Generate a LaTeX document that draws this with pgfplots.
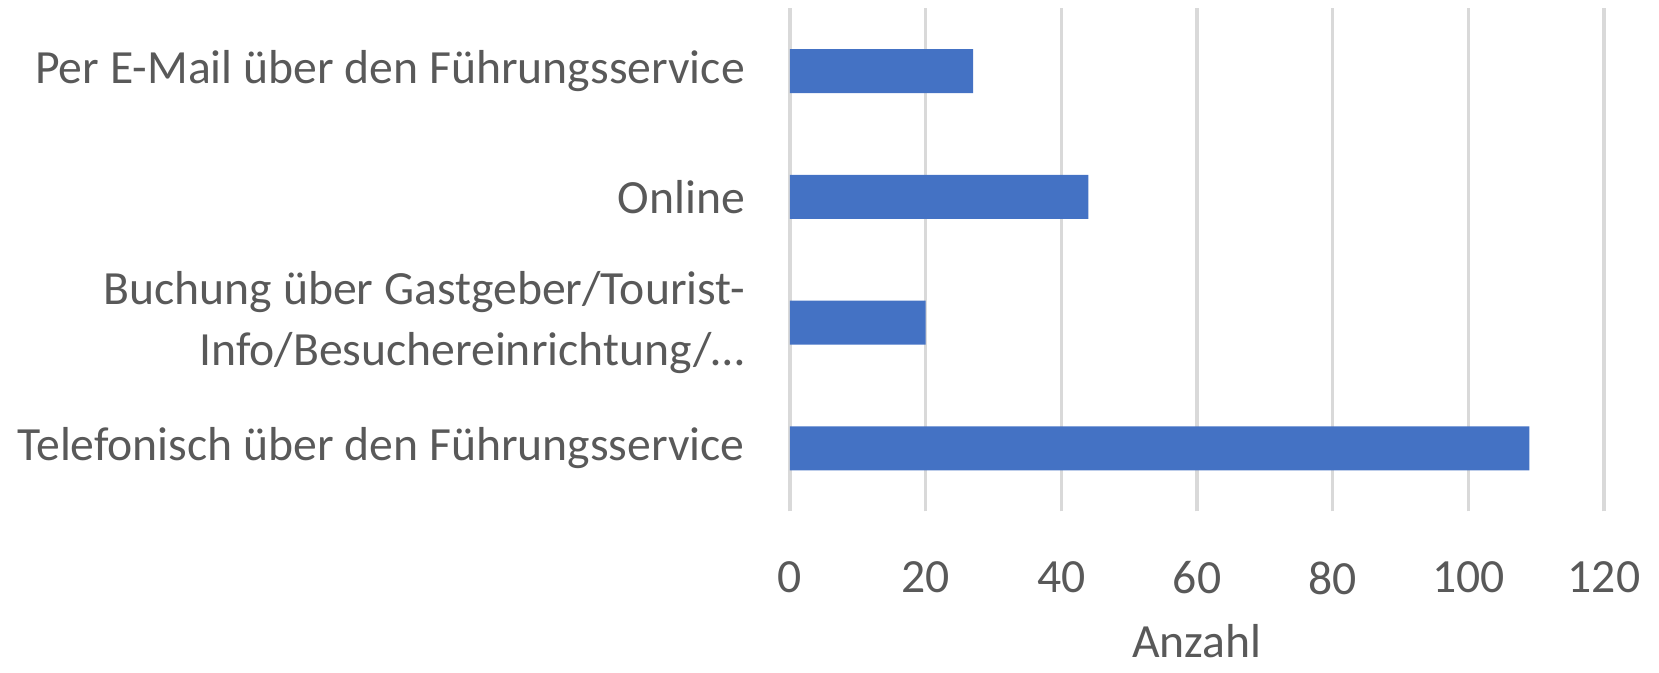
\documentclass[border=0pt]{standalone}
\usepackage{fontspec}
\setmainfont{Carlito}
\usepackage{pgfplots}
\pgfplotsset{compat=1.18}
\definecolor{barblue}{HTML}{4472C4}
\definecolor{gridgray}{HTML}{D9D9D9}
\definecolor{txtgray}{HTML}{595959}
\begin{document}
\begin{tikzpicture}
\begin{axis}[
  scale only axis,
  width=244.2pt, height=150.9pt,
  xbar, bar width=13.2pt,
  xmin=0, xmax=120,
  ymin=-0.5, ymax=3.5,
  xtick={0,20,40,60,80,100,120},
  ytick={0,1,2,3},
  yticklabels={Telefonisch über den Führungsservice,{Buchung über Gastgeber/Tourist-\\Info/Besuchereinrichtung/…},Online,Per E-Mail über den Führungsservice},
  xmajorgrids, grid style={gridgray, line width=1pt},
  axis line style={draw=none},
  major tick length=0pt,
  tick label style={font=\fontsize{14.3}{18.4}\selectfont, text=txtgray},
  /pgf/number format/assume math mode=true,
  yticklabel style={align=right, xshift=-10pt},
  xticklabel style={yshift=-11.5pt},
  xlabel={Anzahl},
  xlabel style={font=\fontsize{14.3}{17}\selectfont, text=txtgray, inner sep=0pt, yshift=-5.5pt},
  clip=false,
]
\addplot[fill=barblue, draw=none] coordinates {(109,0) (20,1) (44,2) (27,3)};
\end{axis}
\pgfresetboundingbox
\path (current axis.south west) ++(-237pt,-48.2pt) rectangle ++(497.7pt,201.6pt);
\end{tikzpicture}
\end{document}
